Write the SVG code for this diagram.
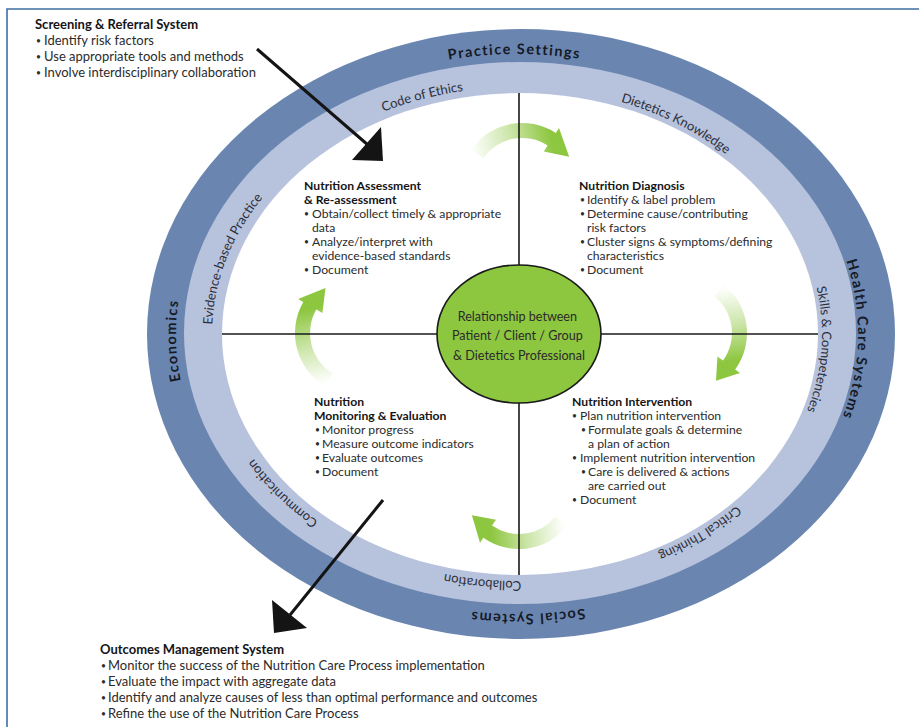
<svg xmlns="http://www.w3.org/2000/svg" width="919" height="727" viewBox="0 0 919 727">
  <defs>
    <style>
      .t{font-family:Lato,"Open Sans","Liberation Sans",sans-serif;font-size:12.2px;fill:#2b2b2b}
      .h{font-weight:bold;fill:#151515}
      .o{font-size:13px}
      .b{font-size:8.5px}
      .ring{font-family:Lato,"Open Sans","Liberation Sans",sans-serif;font-size:13px;fill:#2c2f3a}
      .ringb{font-family:Lato,"Open Sans","Liberation Sans",sans-serif;font-size:14.5px;font-weight:bold;letter-spacing:1.4px;fill:#151a26}
      .blk{stroke:#141414;stroke-width:3;fill:none}
      .head{fill:#141414}
      .cross{stroke:#1a1a1a;stroke-width:1.6}
    </style>
    <linearGradient id="g1" gradientUnits="userSpaceOnUse" x1="474" y1="155" x2="552" y2="140">
      <stop offset="0" stop-color="#8dc63f" stop-opacity="0.02"/>
      <stop offset="0.5" stop-color="#8dc63f" stop-opacity="0.45"/>
      <stop offset="1" stop-color="#8dc63f"/>
    </linearGradient>
    <linearGradient id="g2" gradientUnits="userSpaceOnUse" x1="718" y1="290" x2="728" y2="362">
      <stop offset="0" stop-color="#8dc63f" stop-opacity="0.02"/>
      <stop offset="0.5" stop-color="#8dc63f" stop-opacity="0.45"/>
      <stop offset="1" stop-color="#8dc63f"/>
    </linearGradient>
    <linearGradient id="g3" gradientUnits="userSpaceOnUse" x1="562" y1="522" x2="490" y2="530">
      <stop offset="0" stop-color="#8dc63f" stop-opacity="0.02"/>
      <stop offset="0.5" stop-color="#8dc63f" stop-opacity="0.45"/>
      <stop offset="1" stop-color="#8dc63f"/>
    </linearGradient>
    <linearGradient id="g4" gradientUnits="userSpaceOnUse" x1="330" y1="380" x2="312" y2="308">
      <stop offset="0" stop-color="#8dc63f" stop-opacity="0.02"/>
      <stop offset="0.5" stop-color="#8dc63f" stop-opacity="0.45"/>
      <stop offset="1" stop-color="#8dc63f"/>
    </linearGradient>
    <!-- baselines for the ring labels (clockwise arcs) -->
    <path id="pCode" d="M230.4,249.5 A305,247 0 0 1 669.5,120.1"/>
    <path id="pDiet" d="M435.5,96.0 A305,247 0 0 1 820.6,310.3"/>
    <path id="pSkill" d="M725.8,153.9 A305,247 0 0 1 699.7,531.8"/>
    <path id="pCrit" d="M822,334 A305,247 0 0 1 464.0,577.2"/>
    <path id="pColl" d="M724.2,515.2 A305,247 0 0 1 260.6,467.8"/>
    <path id="pComm" d="M498.4,580.5 A305,247 0 0 1 220.4,276.3"/>
    <path id="pEvid" d="M264.2,472.1 A305,247 0 0 1 393.0,108.4"/>
    <path id="pPrac" d="M253.9,155.9 A341,280 0 0 1 776.3,152.2"/>
    <path id="pHealth" d="M740.7,122.7 A341,280 0 0 1 731.6,551.6"/>
    <path id="pSoc" d="M785.7,506.4 A341,280 0 0 1 263.6,521.3"/>
    <path id="pEcon" d="M303.3,552.2 A341,280 0 0 1 292.4,123.3"/>
  </defs>

  <rect width="919" height="727" fill="#ffffff"/>
  <path id="frame" d="M7,727 V9 H919" fill="none" stroke="#3f6ea3" stroke-width="1.6"/>

  <!-- environment rings -->
  <g id="rings">
    <ellipse cx="521" cy="334" rx="374" ry="305" fill="#6a86b0"/>
    <ellipse cx="520" cy="333" rx="336" ry="271" fill="#b7c2dc"/>
    <ellipse cx="520" cy="334" rx="298" ry="241" fill="#ffffff"/>
  </g>

  <g id="ring-labels">
    <text class="ringb"><textPath href="#pPrac" startOffset="50%" text-anchor="middle">Practice Settings</textPath></text>
    <text class="ringb"><textPath href="#pHealth" startOffset="50%" text-anchor="middle">Health Care Systems</textPath></text>
    <text class="ringb"><textPath href="#pSoc" startOffset="50%" text-anchor="middle">Social Systems</textPath></text>
    <text class="ringb"><textPath href="#pEcon" startOffset="50%" text-anchor="middle">Economics</textPath></text>
    <text class="ring"><textPath href="#pCode" startOffset="50%" text-anchor="middle">Code of Ethics</textPath></text>
    <text class="ring"><textPath href="#pDiet" startOffset="50%" text-anchor="middle">Dietetics Knowledge</textPath></text>
    <text class="ring"><textPath href="#pSkill" startOffset="50%" text-anchor="middle">Skills &amp; Competencies</textPath></text>
    <text class="ring"><textPath href="#pCrit" startOffset="50%" text-anchor="middle">Critical Thinking</textPath></text>
    <text class="ring"><textPath href="#pColl" startOffset="50%" text-anchor="middle">Collaboration</textPath></text>
    <text class="ring"><textPath href="#pComm" startOffset="50%" text-anchor="middle">Communication</textPath></text>
    <text class="ring"><textPath href="#pEvid" startOffset="50%" text-anchor="middle">Evidence-based Practice</textPath></text>
  </g>

  <g id="connectors">
    <!-- cycle arrows -->
    <path d="M471.2,149.4 A62,62 0 0 1 555.8,133.0 L559.0,128.0 L569.2,156.7 L543.8,151.5 L547.6,145.6 A47,47 0 0 0 483.5,158.0 Z" fill="url(#g1)"/>
    <path d="M724.0,284.8 A62,62 0 0 1 735.2,369.4 L740.0,373.0 L716.0,380.8 L717.4,356.5 L723.0,360.6 A47,47 0 0 0 714.6,296.5 Z" fill="url(#g2)"/>
    <path d="M567.2,526.0 A62,62 0 0 1 483.4,537.8 L480.0,542.7 L471.9,515.3 L496.1,519.8 L492.0,525.5 A47,47 0 0 0 555.5,516.6 Z" fill="url(#g3)"/>
    <path d="M325.1,386.2 A62,62 0 0 1 303.3,302.0 L298.1,299.0 L325.5,287.9 L322.4,313.0 L316.3,309.5 A47,47 0 0 0 332.8,373.3 Z" fill="url(#g4)"/>
    <!-- quadrant dividers -->
    <line class="cross" x1="222" y1="334" x2="818" y2="334"/>
    <line class="cross" x1="519" y1="93" x2="519" y2="575"/>
    <!-- screening into assessment -->
    <line class="blk" x1="257" y1="49" x2="368" y2="145"/>
    <polygon class="head" points="352,160 383,161 381,127"/>
    <!-- monitoring out to outcomes -->
    <line class="blk" x1="383" y1="500" x2="290" y2="615"/>
    <polygon class="head" points="272,600 307,628 274,633"/>
  </g>

  <g id="center">
    <ellipse cx="519" cy="334" rx="82" ry="69" fill="#8dc63f" stroke="#1a1a1a" stroke-width="1.6"/>
    <text class="t" text-anchor="middle" style="font-size:12.6px">
      <tspan x="519" y="320.5">Relationship between</tspan>
      <tspan x="519" y="340">Patient / Client / Group</tspan>
      <tspan x="519" y="359.5">&amp; Dietetics Professional</tspan>
    </text>
  </g>

  <g id="screening">
    <text class="t o"><tspan class="h" x="35" y="29">Screening &amp; Referral System</tspan></text>
    <text class="t o"><tspan class="b" x="36" y="44">•</tspan><tspan x="44" y="45">Identify risk factors</tspan></text>
    <text class="t o"><tspan class="b" x="36" y="60">•</tspan><tspan x="44" y="61">Use appropriate tools and methods</tspan></text>
    <text class="t o"><tspan class="b" x="36" y="76">•</tspan><tspan x="44" y="77">Involve interdisciplinary collaboration</tspan></text>
  </g>

  <g id="assessment">
    <text class="t"><tspan class="h" x="304" y="190">Nutrition Assessment</tspan></text>
    <text class="t"><tspan class="h" x="304" y="204">&amp; Re-assessment</tspan></text>
    <text class="t"><tspan class="b" x="304" y="217">•</tspan><tspan x="312" y="218">Obtain/collect timely &amp; appropriate</tspan></text>
    <text class="t" x="312" y="232">data</text>
    <text class="t"><tspan class="b" x="304" y="245">•</tspan><tspan x="312" y="246">Analyze/interpret with</tspan></text>
    <text class="t" x="312" y="260">evidence-based standards</text>
    <text class="t"><tspan class="b" x="304" y="273">•</tspan><tspan x="312" y="274">Document</tspan></text>
  </g>

  <g id="diagnosis">
    <text class="t"><tspan class="h" x="579" y="190">Nutrition Diagnosis</tspan></text>
    <text class="t"><tspan class="b" x="580" y="203">•</tspan><tspan x="587" y="204">Identify &amp; label problem</tspan></text>
    <text class="t"><tspan class="b" x="580" y="217">•</tspan><tspan x="587" y="218">Determine cause/contributing</tspan></text>
    <text class="t" x="587" y="232">risk factors</text>
    <text class="t"><tspan class="b" x="580" y="245">•</tspan><tspan x="587" y="246">Cluster signs &amp; symptoms/defining</tspan></text>
    <text class="t" x="587" y="260">characteristics</text>
    <text class="t"><tspan class="b" x="580" y="273">•</tspan><tspan x="587" y="274">Document</tspan></text>
  </g>

  <g id="intervention">
    <text class="t"><tspan class="h" x="572" y="406">Nutrition Intervention</tspan></text>
    <text class="t"><tspan class="b" x="572" y="419">•</tspan><tspan x="580" y="420">Plan nutrition intervention</tspan></text>
    <text class="t"><tspan class="b" x="581" y="433">•</tspan><tspan x="588" y="434">Formulate goals &amp; determine</tspan></text>
    <text class="t" x="588" y="448">a plan of action</text>
    <text class="t"><tspan class="b" x="572" y="461">•</tspan><tspan x="580" y="462">Implement nutrition intervention</tspan></text>
    <text class="t"><tspan class="b" x="581" y="475">•</tspan><tspan x="588" y="476">Care is delivered &amp; actions</tspan></text>
    <text class="t" x="588" y="490">are carried out</text>
    <text class="t"><tspan class="b" x="572" y="503">•</tspan><tspan x="580" y="504">Document</tspan></text>
  </g>

  <g id="monitoring">
    <text class="t"><tspan class="h" x="314" y="406">Nutrition</tspan></text>
    <text class="t"><tspan class="h" x="314" y="420">Monitoring &amp; Evaluation</tspan></text>
    <text class="t"><tspan class="b" x="315" y="433">•</tspan><tspan x="322" y="434">Monitor progress</tspan></text>
    <text class="t"><tspan class="b" x="315" y="447">•</tspan><tspan x="322" y="448">Measure outcome indicators</tspan></text>
    <text class="t"><tspan class="b" x="315" y="461">•</tspan><tspan x="322" y="462">Evaluate outcomes</tspan></text>
    <text class="t"><tspan class="b" x="315" y="475">•</tspan><tspan x="322" y="476">Document</tspan></text>
  </g>

  <g id="outcomes">
    <text class="t o"><tspan class="h" x="100" y="654">Outcomes Management System</tspan></text>
    <text class="t o"><tspan class="b" x="101" y="669">•</tspan><tspan x="108" y="670">Monitor the success of the Nutrition Care Process implementation</tspan></text>
    <text class="t o"><tspan class="b" x="101" y="685">•</tspan><tspan x="108" y="686">Evaluate the impact with aggregate data</tspan></text>
    <text class="t o"><tspan class="b" x="101" y="701">•</tspan><tspan x="108" y="702">Identify and analyze causes of less than optimal performance and outcomes</tspan></text>
    <text class="t o"><tspan class="b" x="101" y="717">•</tspan><tspan x="108" y="718">Refine the use of the Nutrition Care Process</tspan></text>
  </g>
</svg>
